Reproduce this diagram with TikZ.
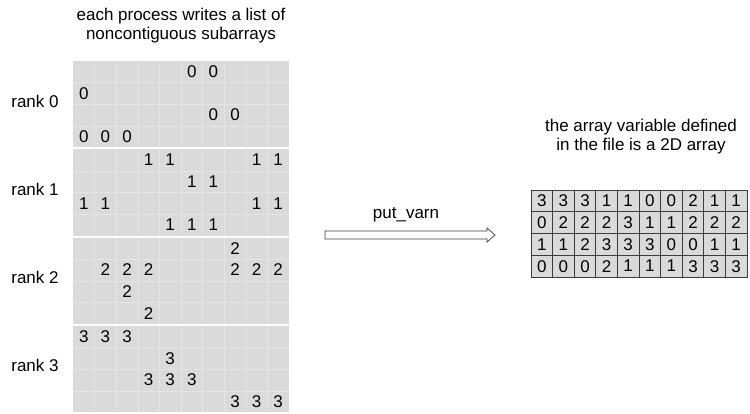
\documentclass[tikz,border=0pt]{standalone}
\usepackage{fontspec}
\setmainfont{Liberation Sans}
\usepackage{xcolor}
\definecolor{cellgray}{RGB}{218,218,218}
\definecolor{gridline}{RGB}{229,229,229}
\definecolor{inkgray}{RGB}{60,60,60}
\tikzstyle{cell}=[draw=inkgray, fill=cellgray, minimum width=21.6pt, minimum height=21.75pt, inner sep=0pt, line width=0.7pt]
\tikzstyle{lbl}=[align=center]
\begin{document}
\begin{tikzpicture}[x=1pt,y=-1pt,font=\fontsize{17}{19}\selectfont]
\useasboundingbox (0,0) rectangle (750,414);
% the four rank blocks
\foreach \r in {0,1,2,3} {
	\pgfmathsetmacro{\ty}{61+\r*88.3}
	\fill[cellgray] (73,\ty) rectangle ++(216,86.5);
	\foreach \i in {1,2,3}
		\draw[gridline] (73,\ty+\i*21.6) -- ++(216,0);
	\foreach \j in {1,...,9}
		\draw[gridline] (73+\j*21.6,\ty) -- ++(0,86.5);
	\node (rank\r) at (35,\ty+40) {rank \r};
}
% subarrays written by each rank
\foreach \r/\i/\j in {0/0/5,0/0/6,0/1/0,0/2/6,0/2/7,0/3/0,0/3/1,0/3/2,
	1/0/3,1/0/4,1/0/8,1/0/9,1/1/5,1/1/6,1/2/0,1/2/1,1/2/8,1/2/9,1/3/4,1/3/5,1/3/6,
	2/0/7,2/1/1,2/1/2,2/1/3,2/1/7,2/1/8,2/1/9,2/2/2,2/3/3,
	3/0/0,3/0/1,3/0/2,3/1/4,3/2/3,3/2/4,3/2/5,3/3/7,3/3/8,3/3/9} {
	\node[inner sep=0pt] (v\r\i\j) at (73+\j*21.6+10.8,61+\r*88.3+\i*21.6+10.8) {\r};
}
\node[lbl] (title) at (181,26) {each process writes a list of\\noncontiguous subarrays};
% the 2D array in the file
\node[lbl] (desc) at (641,137) {the array variable defined\\in the file is a 2D array};
\foreach \row [count=\i from 0] in {{3,3,3,1,1,0,0,2,1,1},{0,2,2,2,3,1,1,2,2,2},{1,1,2,3,3,3,0,0,1,1},{0,0,0,2,1,1,1,3,3,3}} {
	\foreach \v [count=\j from 0] in \row {
		\node[cell] (c\i\j) at (531+\j*21.6+10.8,190+\i*21.75+10.9) {\v};
	}
}
% put_varn arrow
\coordinate (a0) at (325,235);
\node (put) at (406,215) {put\_varn};
\draw[inkgray, fill=white, line width=0.7pt] (a0) ++(0,-4) -- ++(162,0) -- ++(0,-3) -- ++(8,7) -- ++(-8,7) -- ++(0,-3) -- ++(-162,0) -- cycle;
\end{tikzpicture}
\end{document}
